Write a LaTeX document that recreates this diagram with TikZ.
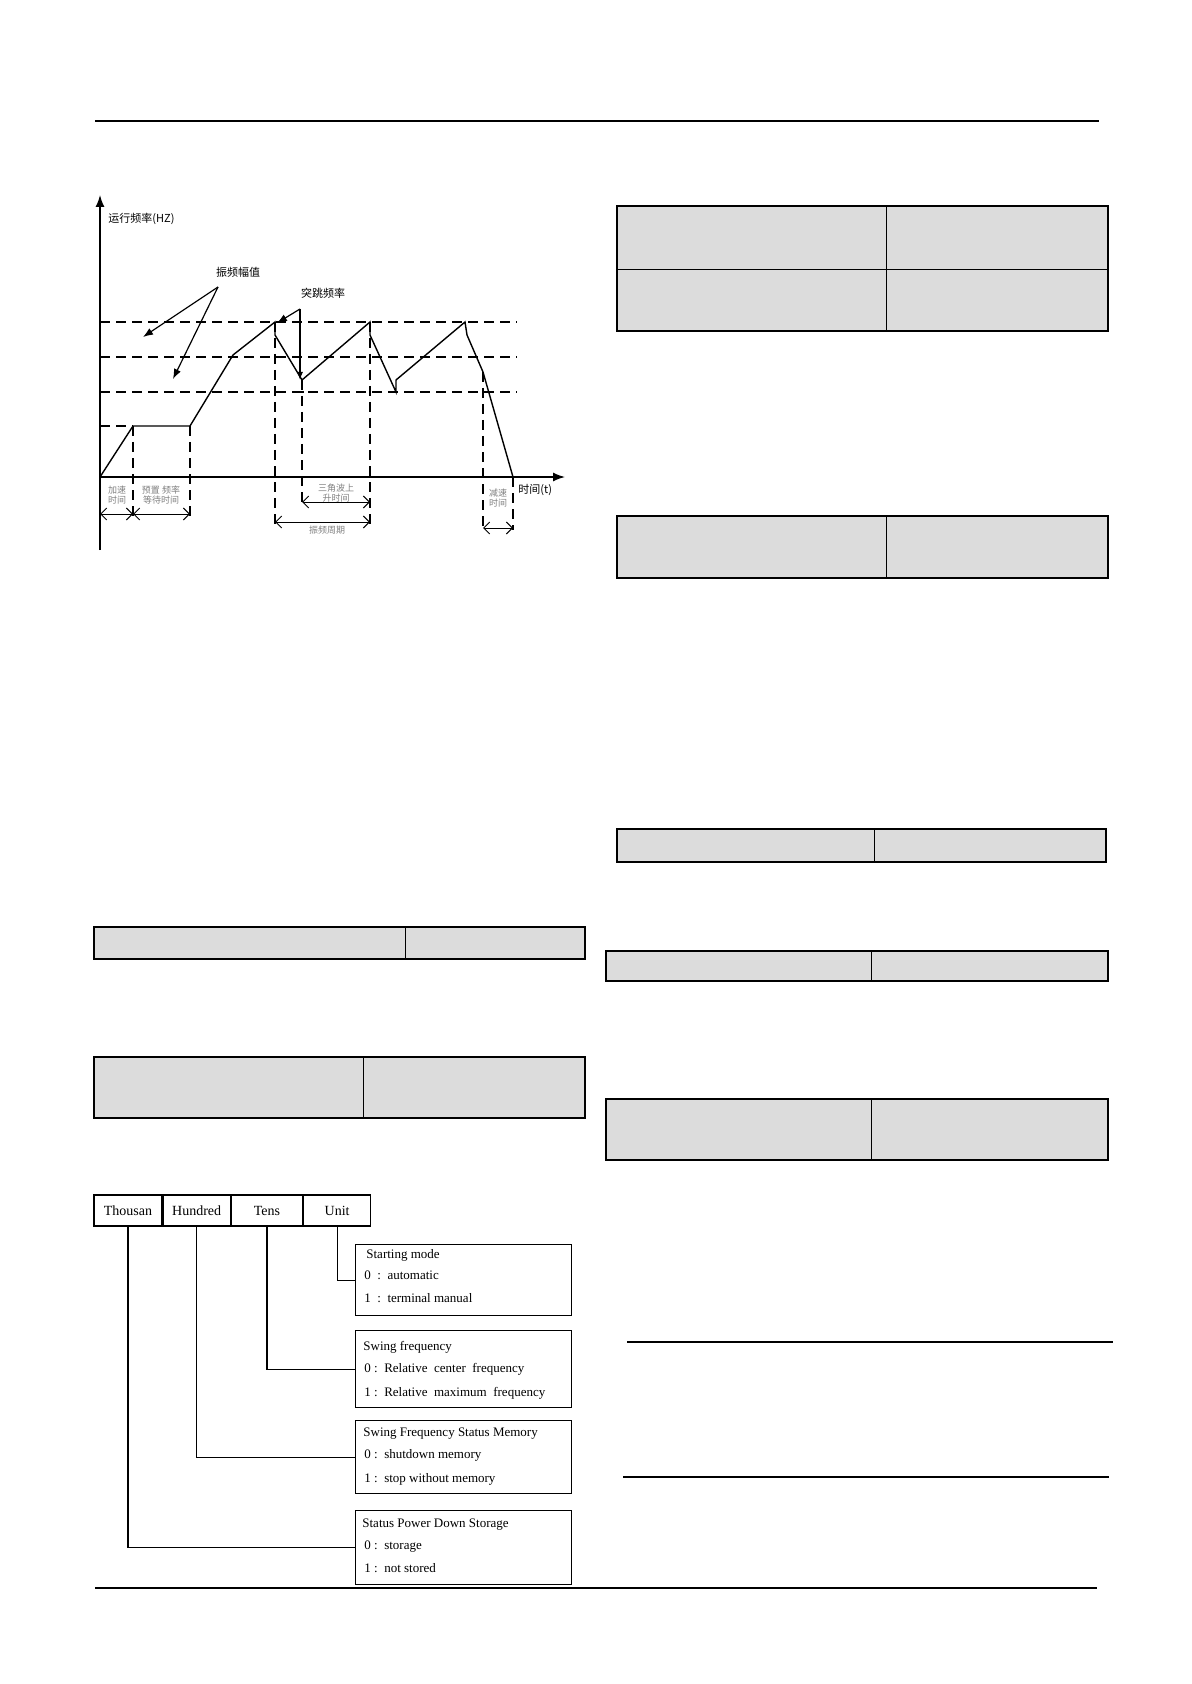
\documentclass[tikz,border=0pt]{standalone}
\usepackage{fontspec}
\setmainfont{Liberation Serif}
\newfontfamily\cjk{Noto Sans CJK SC}
\usetikzlibrary{arrows.meta,positioning}
\definecolor{cellgray}{HTML}{DCDCDC}
\tikzset{
  cell/.style={draw=black,fill=cellgray,line width=0.6pt},
  guide/.style={dashed,dash pattern=on 5pt off 3pt,line width=0.6pt},
  bitbox/.style={draw,line width=0.6pt,minimum height=15.5pt,inner sep=0pt,font=\fontsize{7}{8}\selectfont},
  infobox/.style={draw,line width=0.6pt,inner sep=0pt,anchor=north west},
  infotxt/.style={anchor=north west,inner sep=0pt,font=\fontsize{6.5}{7}\selectfont},
  cjklab/.style={font=\cjk\fontsize{5.5}{6}\selectfont,inner sep=0pt},
  greylab/.style={font=\cjk\fontsize{4.5}{5}\selectfont,text=gray,inner sep=0pt,align=center},
  dimarr/.style={{Straight Barb[length=3pt]}-{Straight Barb[length=3pt]},line width=0.5pt}
}
\begin{document}
\begin{tikzpicture}[x=0.5pt,y=-0.5pt]
\useasboundingbox (0,0) rectangle (1191,1684);
% page rules
\draw[line width=0.6pt] (95,121) -- (1099,121);
\draw[line width=0.6pt] (95,1588) -- (1097,1588);
\draw[line width=0.6pt] (627,1342) -- (1113,1342);
\draw[line width=0.6pt] (623,1477) -- (1109,1477);
% grey tables
\draw[cell] (617,206) rectangle (1108,331);
\draw (617,269) -- (1108,269) (886,206) -- (886,331);
\draw[cell] (617,516) rectangle (1108,578);
\draw (886,516) -- (886,578);
\draw[cell] (617,829) rectangle (1106,862);
\draw (874,829) -- (874,862);
\draw[cell] (606,951) rectangle (1108,981);
\draw (871,951) -- (871,981);
\draw[cell] (606,1099) rectangle (1108,1160);
\draw (871,1099) -- (871,1160);
\draw[cell] (94,927) rectangle (585,959);
\draw (405,927) -- (405,959);
\draw[cell] (94,1057) rectangle (585,1118);
\draw (363,1057) -- (363,1118);
% frequency chart
\draw[line width=0.7pt,-{Latex[length=6pt]}] (100,550) -- (100,195);
\draw[line width=0.7pt,-{Latex[length=6pt]}] (100,477) -- (565,477);
\foreach \yy in {322,357,392} \draw[guide] (100,\yy) -- (517,\yy);
\draw[guide] (100,426) -- (133,426);
\foreach \xx/\ya/\yb in {133/426/520,190/426/520,275/322/525,302/380/505,370/322/525,483/372/530,513/477/530}
  \draw[guide] (\xx,\ya) -- (\xx,\yb);
\draw[line width=0.7pt] (100,477) -- (133,426) -- (190,426) -- (233,355) -- (275,322)
  -- (275,335) -- (302,380) -- (370,322) -- (370,335) -- (396,392) -- (396,380)
  -- (465,322) -- (467,335) -- (483,372) -- (513,477);
\node[cjklab,anchor=west] (yl) at (108,219) {运行频率(HZ)};
\node[cjklab] (amp) at (238,272) {振频幅值};
\coordinate (ampt) at (218,287);
\draw[line width=0.6pt,-{Latex[length=5pt]}] (ampt) -- (143,337);
\draw[line width=0.6pt,-{Latex[length=5pt]}] (ampt) -- (173,379);
\node[cjklab] (jump) at (323,293) {突跳频率};
\coordinate (jmpt) at (300,309);
\draw[line width=0.6pt,-{Latex[length=5pt]}] (jmpt) -- (277,323);
\draw[line width=0.6pt,-{Latex[length=4pt]}] (jmpt) -- (300,380);
\draw[line width=0.6pt] (296,392) -- (304,392);
\node[cjklab,anchor=west] (tl) at (518,490) {时间(t)};
\node[greylab] at (117,495) {加速\\时间};
\node[greylab] at (161,495) {预置 频率\\等待时间};
\node[greylab] at (336,493) {三角波上\\升时间};
\node[greylab] at (327,530) {振频周期};
\node[greylab] at (498,498) {减速\\时间};
\draw[dimarr] (100,514) -- (133,514);
\draw[dimarr] (133,514) -- (190,514);
\draw[dimarr] (302,502) -- (370,502);
\draw[dimarr] (275,522) -- (370,522);
\draw[dimarr] (483,528) -- (513,528);
% digit boxes
\node[bitbox,minimum width=34pt] (thou) at (128,1210.5) {Thousan};
\node[bitbox,minimum width=33.5pt,right=0pt of thou] (hund) {Hundred};
\node[bitbox,minimum width=35.5pt,right=0pt of hund] (tens) {Tens};
\node[bitbox,minimum width=33.5pt,right=0pt of tens] (unit) {Unit};
% option boxes
\node[infobox,minimum width=108pt,minimum height=35.5pt] (st1) at (355,1244) {};
\node[infobox,minimum width=108pt,minimum height=38.5pt] (st2) at (355,1330) {};
\node[infobox,minimum width=108pt,minimum height=36.5pt] (st3) at (355,1420) {};
\node[infobox,minimum width=108pt,minimum height=37pt] (st4) at (355,1510) {};
\node[infotxt] at (366,1249) {Starting mode};
\node[infotxt] at (364,1270) {0\ \ :\ \ automatic};
\node[infotxt] at (364,1293) {1\ \ :\ \ terminal manual};
\node[infotxt] at (363,1341) {Swing frequency};
\node[infotxt] at (364,1363) {0\ :\ \ Relative\ \ center\ \ frequency};
\node[infotxt] at (364,1387) {1\ :\ \ Relative\ \ maximum\ \ frequency};
\node[infotxt] at (363,1427) {Swing Frequency Status Memory};
\node[infotxt] at (364,1449) {0\ :\ \ shutdown memory};
\node[infotxt] at (364,1473) {1\ :\ \ stop without memory};
\node[infotxt] at (362,1518) {Status Power Down Storage};
\node[infotxt] at (364,1540) {0\ :\ \ storage};
\node[infotxt] at (364,1563) {1\ :\ \ not stored};
\draw[line width=0.6pt] (unit.south) |- (st1.west);
\draw[line width=0.6pt] (tens.south) |- (st2.west);
\draw[line width=0.6pt] (hund.south) |- (st3.west);
\draw[line width=0.6pt] (thou.south) |- (st4.west);
\end{tikzpicture}
\end{document}
